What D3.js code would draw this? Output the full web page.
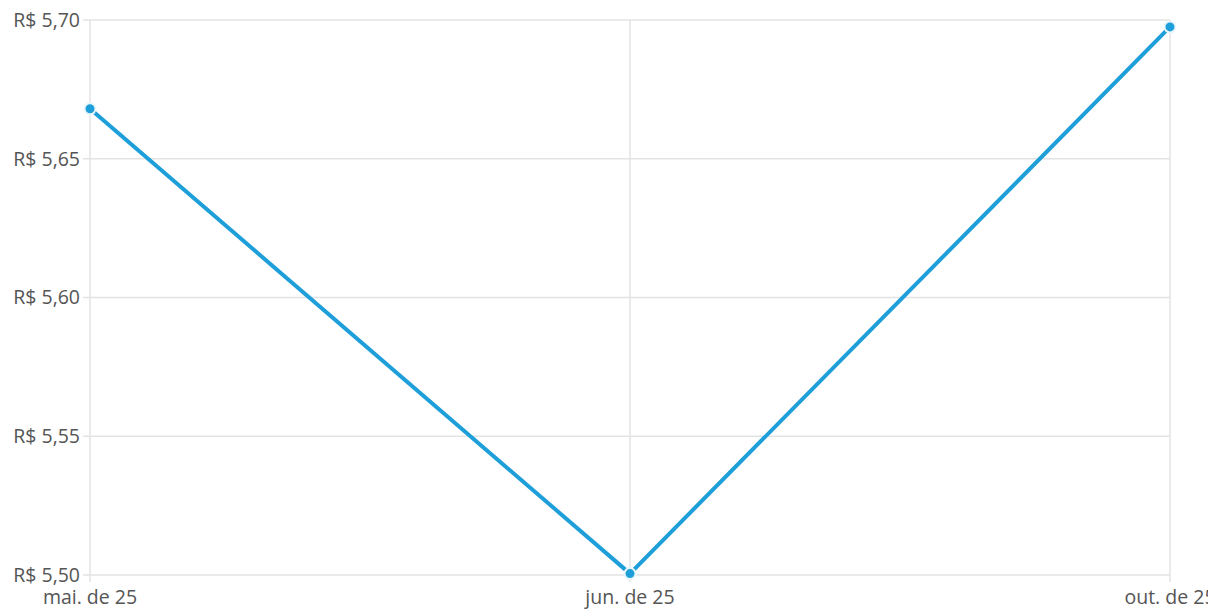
<!DOCTYPE html>
<html><head><meta charset="utf-8">
<script src="https://cdn.jsdelivr.net/npm/d3@7"></script>
<style>
html,body{margin:0;padding:0;background:#fff;overflow:hidden}
text{font-family:"Open Sans",sans-serif}
</style></head>
<body><svg id="c" width="1208" height="611"></svg>
<script>
const categories = ["mai. de 25", "jun. de 25", "out. de 25"];
const values = [5.668, 5.5005, 5.6975];
const yTicks = [5.50, 5.55, 5.60, 5.65, 5.70];

const svg = d3.select("#c");
const m = {left: 90, right: 38, top: 20, bottom: 36};
const W = 1208, H = 611;
const x = d3.scalePoint().domain(categories).range([m.left, W - m.right]);
const y = d3.scaleLinear().domain([5.50, 5.70]).range([H - m.bottom, m.top]);
const fmt = v => "R$ " + v.toFixed(2).replace(".", ",");

// horizontal grid
svg.append("g").selectAll("line").data(yTicks).join("line")
  .attr("x1", m.left - 7).attr("x2", W - m.right)
  .attr("y1", d => y(d)).attr("y2", d => y(d))
  .attr("stroke", "#e3e3e3").attr("stroke-width", 1.5);
// vertical grid
svg.append("g").selectAll("line").data(categories).join("line")
  .attr("x1", d => x(d)).attr("x2", d => x(d))
  .attr("y1", m.top).attr("y2", H - m.bottom + 7)
  .attr("stroke", "#e3e3e3").attr("stroke-width", 1.5);

// y labels
svg.append("g").selectAll("text").data(yTicks).join("text")
  .attr("x", m.left - 10).attr("y", d => y(d)).attr("dy", "0.35em")
  .attr("text-anchor", "end").attr("font-size", 19.5).attr("fill", "#555")
  .text(fmt);
// x labels
svg.append("g").selectAll("text").data(categories).join("text")
  .attr("x", d => x(d)).attr("y", H - m.bottom + 29)
  .attr("text-anchor", "middle").attr("font-size", 19.5).attr("fill", "#555")
  .text(d => d);

const data = categories.map((c, i) => ({c, v: values[i]}));
svg.append("path").datum(data)
  .attr("d", d3.line().x(d => x(d.c)).y(d => y(d.v)))
  .attr("fill", "none").attr("stroke", "#1f9fd9").attr("stroke-width", 4)
  .attr("stroke-linejoin", "round");
svg.append("g").selectAll("circle").data(data).join("circle")
  .attr("cx", d => x(d.c)).attr("cy", d => y(d.v)).attr("r", 5.5)
  .attr("fill", "#1f9fd9").attr("stroke", "#eaf6fc").attr("stroke-width", 2);
</script></body></html>
